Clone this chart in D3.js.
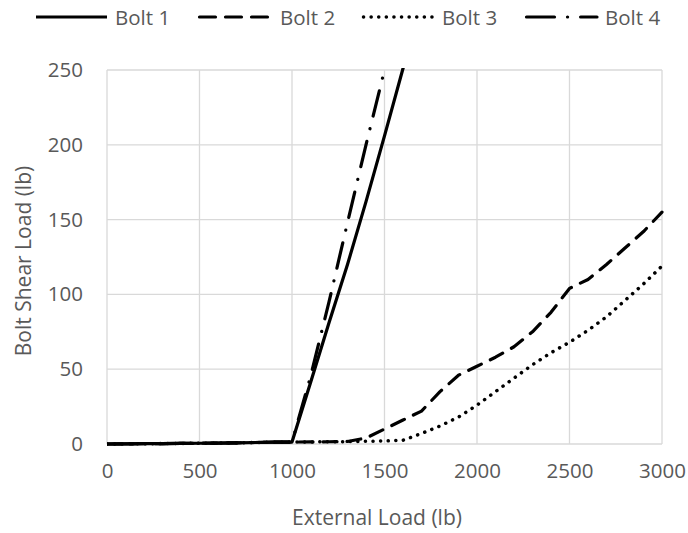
<!DOCTYPE html>
<html><head><meta charset="utf-8">
<script src="https://cdn.jsdelivr.net/npm/d3@7"></script>
<style>body{margin:0;background:#fff}svg{display:block}text{font-family:"Open Sans",sans-serif;fill:#595959}</style>
</head><body><svg id="c" width="688" height="533"></svg>
<script>
const xTicks = [0, 500, 1000, 1500, 2000, 2500, 3000];
const yTicks = [0, 50, 100, 150, 200, 250];
const seriesNames = ["Bolt 1", "Bolt 2", "Bolt 3", "Bolt 4"];
const loads = [0,100,200,300,400,500,600,700,800,900,1000,1100,1200,1300,1400,1500,1600,1700,1800,1900,2000,2100,2200,2300,2400,2500,2600,2700,2800,2900,3000];
const bolt1 = [0,0.1,0.2,0.3,0.4,0.5,0.6,0.8,1,1.2,1.3,41,81,120,162,206,251,296,341,386,431,476,521,566,611,656,701,746,791,836,881];
const bolt2 = [0,0.1,0.2,0.3,0.4,0.5,0.6,0.8,1,1.2,1.3,1.4,1.5,1.7,4,10,16,22,35,46,52,58,65,75,88,104,110,120,131,142,155];
const bolt3 = [0,0.1,0.2,0.3,0.4,0.5,0.6,0.8,1,1.2,1.3,1.4,1.5,1.6,1.8,2,2.5,7,12,18,26,35,44,53,61,68,76,85,96,107,119];
const bolt4 = [0,0.1,0.2,0.3,0.4,0.5,0.6,0.8,1,1.2,1.3,45,95,148,200,250,305,360,415,470,525,580,635,690,745,800,855,910,965,1020,1075];
const dashes = [null, "14,10", "0.1,7.5", "26,13,0.1,13"];
const caps = ["butt", "round", "round", "round"];

const svg = d3.select("#c");
const W = 688, H = 533;
const m = {l:107, r:W-662, t:70, b:H-444};
const x = d3.scaleLinear().domain([0,3000]).range([m.l, W-m.r]);
const y = d3.scaleLinear().domain([0,250]).range([H-m.b, m.t]);

const g = svg.append("g");
g.selectAll(".gx").data(xTicks).join("line").attr("x1",d=>x(d)).attr("x2",d=>x(d)).attr("y1",y(0)).attr("y2",y(250)).attr("stroke","#d9d9d9").attr("stroke-width",1.3);
g.selectAll(".gy").data(yTicks).join("line").attr("x1",x(0)).attr("x2",x(3000)).attr("y1",d=>y(d)).attr("y2",d=>y(d)).attr("stroke","#d9d9d9").attr("stroke-width",1.3);

const xa = svg.append("g").attr("transform",`translate(0,${y(0)})`).call(d3.axisBottom(x).tickValues(xTicks).tickSize(0).tickPadding(19).tickFormat(d3.format("d")));
const ya = svg.append("g").attr("transform",`translate(${x(0)},0)`).call(d3.axisLeft(y).tickValues(yTicks).tickSize(0).tickPadding(24).tickFormat(d3.format("d")));
[xa,ya].forEach(a=>{a.select(".domain").remove();a.selectAll("text").style("font-family","'Open Sans',sans-serif").style("font-size","20.5px").attr("fill","#595959");});

svg.append("defs").append("clipPath").attr("id","clip").append("rect").attr("x",x(0)).attr("y",y(250)-2).attr("width",x(3000)-x(0)+4).attr("height",y(0)-y(250)+4);

const data = [bolt1,bolt2,bolt3,bolt4];
const line = d3.line().x((d,i)=>x(loads[i])).y(d=>y(d));
const lg = svg.append("g").attr("clip-path","url(#clip)");
data.forEach((s,k)=>{
  lg.append("path").datum(s).attr("d",line).attr("fill","none").attr("stroke","#000")
    .attr("stroke-width", k===2 ? 3.5 : 3.2)
    .attr("stroke-linecap", caps[k]).attr("stroke-linejoin","round")
    .attr("stroke-dasharray", dashes[k]);
});

svg.append("text").attr("x",377).attr("y",525).attr("text-anchor","middle").style("font-size","21px").text("External Load (lb)");
svg.append("text").attr("transform",`translate(31,261) rotate(-90)`).attr("text-anchor","middle").style("font-size","21px").text("Bolt Shear Load (lb)");

const legLine = [36, 198, 362, 525];
const legText = [115, 280, 442, 605];
const leg = svg.append("g");
seriesNames.forEach((n,k)=>{
  leg.append("line").attr("x1",legLine[k]+(k===0?0:1.5)).attr("x2",legText[k]-8).attr("y1",17).attr("y2",17).attr("stroke","#000")
    .attr("stroke-width", k===2 ? 3.5 : 3.2)
    .attr("stroke-linecap", caps[k]).attr("stroke-dasharray", k===3 ? "28,13,0.1,13" : (k===1 ? "16,10" : dashes[k]));
  leg.append("text").attr("x",legText[k]).attr("y",25).style("font-size","20.5px").text(n);
});
</script></body></html>
